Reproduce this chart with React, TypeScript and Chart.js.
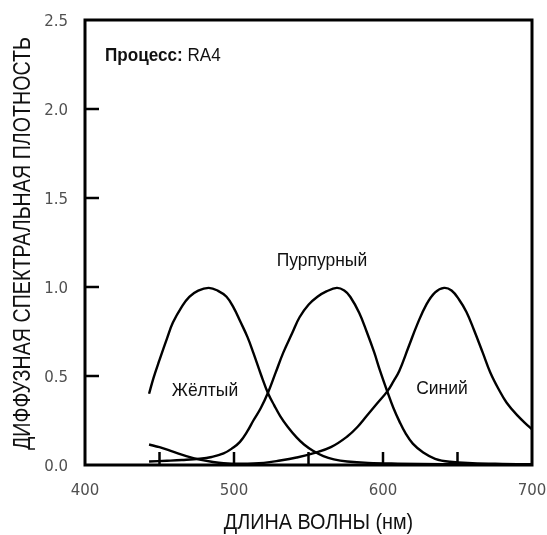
import { useEffect, useRef } from 'react';
import { Chart, registerables } from 'chart.js';

Chart.register(...registerables);

// ---- data (wavelength nm, diffuse spectral density) ----
const yellowNm = [443, 446, 450, 455, 459, 465, 470, 476, 483, 489, 495, 500, 504, 509, 513, 518, 523, 527, 531, 536, 542, 547, 553, 560, 567, 576, 590, 610, 640, 670, 700];
const yellowD = [0.40, 0.49, 0.59, 0.71, 0.80, 0.89, 0.945, 0.98, 0.995, 0.98, 0.945, 0.88, 0.81, 0.72, 0.63, 0.51, 0.40, 0.335, 0.275, 0.215, 0.155, 0.115, 0.08, 0.05, 0.032, 0.02, 0.012, 0.008, 0.005, 0.003, 0.002];

const magentaNm = [443, 455, 465, 477, 485, 493, 499, 504, 509, 513, 518, 523, 528, 533, 539, 544, 550, 556, 562, 569, 574, 578, 584, 589, 594, 598, 603, 607, 611, 615, 620, 627, 635, 645, 660, 680, 700];
const magentaD = [0.02, 0.024, 0.028, 0.035, 0.045, 0.065, 0.095, 0.13, 0.19, 0.25, 0.32, 0.41, 0.52, 0.63, 0.74, 0.83, 0.90, 0.945, 0.975, 0.995, 0.98, 0.945, 0.855, 0.75, 0.635, 0.53, 0.41, 0.32, 0.245, 0.18, 0.12, 0.07, 0.035, 0.018, 0.01, 0.006, 0.004];

const cyanNm = [443, 450, 459, 468, 477, 485, 493, 505, 520, 531, 542, 553, 565, 576, 583, 589, 596, 603, 607, 611, 617, 623, 629, 635, 641, 646, 651, 656, 661, 667, 672, 678, 683, 690, 698, 700];
const cyanD = [0.115, 0.10, 0.075, 0.05, 0.03, 0.018, 0.01, 0.007, 0.012, 0.025, 0.042, 0.065, 0.10, 0.16, 0.215, 0.275, 0.345, 0.415, 0.47, 0.53, 0.66, 0.79, 0.90, 0.97, 0.995, 0.98, 0.93, 0.86, 0.76, 0.63, 0.52, 0.42, 0.35, 0.28, 0.215, 0.20];

const xTickLabels = [400, 500, 600, 700];
const yTickLabels = [0, 0.5, 1.0, 1.5, 2.0, 2.5];
const xInnerTicks = [450, 500, 550, 600, 650];
const yInnerTicks = [0.5, 1.0, 1.5, 2.0];

const curveNames = ['Жёлтый', 'Пурпурный', 'Синий'];
const curveNameNm = [480.5, 559, 639.6];
const curveNameD = [0.416, 1.146, 0.427];

const processLabel = 'Процесс:';
const processValue = ' RA4';
const processNm = 413.4;
const processD = 2.3;

const xTitle = 'ДЛИНА ВОЛНЫ (нм)';
const yTitle = 'ДИФФУЗНАЯ СПЕКТРАЛЬНАЯ ПЛОТНОСТЬ';

const toPoints = (xs: number[], ys: number[]) => xs.map((x, i) => ({ x, y: ys[i] }));

const SANS = '"Liberation Sans", Arial, sans-serif';

// draw text horizontally condensed by factor sx
function condensedText(ctx: any, text: string, x: number, y: number, sx: number) {
  ctx.save();
  ctx.translate(x, y);
  ctx.scale(sx, 1);
  ctx.fillText(text, 0, 0);
  ctx.restore();
}

const decorPlugin = {
  id: 'decor',
  afterDatasetsDraw(chart: any) {
    const { ctx, chartArea } = chart;
    const xs = chart.scales.x;
    const ys = chart.scales.y;
    ctx.save();
    ctx.strokeStyle = '#000';
    ctx.lineCap = 'butt';
    // inner tick marks
    ctx.lineWidth = 2.5;
    xInnerTicks.forEach((v) => {
      const px = xs.getPixelForValue(v);
      ctx.beginPath();
      ctx.moveTo(px, chartArea.bottom);
      ctx.lineTo(px, chartArea.bottom - 13);
      ctx.stroke();
    });
    yInnerTicks.forEach((v) => {
      const py = ys.getPixelForValue(v);
      ctx.beginPath();
      ctx.moveTo(chartArea.left, py);
      ctx.lineTo(chartArea.left + 14, py);
      ctx.stroke();
    });
    // frame
    ctx.lineWidth = 3;
    ctx.strokeRect(chartArea.left, chartArea.top, chartArea.right - chartArea.left, chartArea.bottom - chartArea.top);

    // curve names
    ctx.fillStyle = '#111';
    ctx.textBaseline = 'middle';
    ctx.textAlign = 'center';
    ctx.font = `19px ${SANS}`;
    curveNames.forEach((t, i) => {
      condensedText(ctx, t, xs.getPixelForValue(curveNameNm[i]), ys.getPixelForValue(curveNameD[i]), 0.92);
    });

    // process label
    ctx.textAlign = 'left';
    const px = xs.getPixelForValue(processNm);
    const py = ys.getPixelForValue(processD);
    ctx.font = `bold 18px ${SANS}`;
    condensedText(ctx, processLabel, px, py, 0.95);
    const w = ctx.measureText(processLabel).width * 0.95;
    ctx.font = `18px ${SANS}`;
    condensedText(ctx, processValue, px + w, py, 0.95);

    // axis titles
    ctx.textAlign = 'center';
    ctx.font = `22px ${SANS}`;
    condensedText(ctx, xTitle, (chartArea.left + chartArea.right) / 2 + 10, 523, 0.9);
    ctx.save();
    ctx.translate(23, (chartArea.top + chartArea.bottom) / 2 + 1);
    ctx.rotate(-Math.PI / 2);
    ctx.font = `24px ${SANS}`;
    condensedText(ctx, yTitle, 0, 0, 0.82);
    ctx.restore();
    ctx.restore();
  },
};

export default function App() {
  const ref = useRef<HTMLCanvasElement>(null);
  useEffect(() => {
    if (!ref.current) return;
    const lineStyle = {
      borderColor: '#000',
      borderWidth: 2.4,
      pointRadius: 0,
      fill: false,
      tension: 0.4,
    };
    const zeroPad = (s: any) => {
      s.paddingLeft = 0;
      s.paddingRight = 0;
      s.paddingTop = 0;
      s.paddingBottom = 0;
    };
    const chart = new Chart(ref.current, {
      type: 'line',
      data: {
        datasets: [
          { label: curveNames[0], data: toPoints(yellowNm, yellowD), ...lineStyle },
          { label: curveNames[1], data: toPoints(magentaNm, magentaD), ...lineStyle },
          { label: curveNames[2], data: toPoints(cyanNm, cyanD), ...lineStyle },
        ],
      },
      options: {
        responsive: false,
        animation: false,
        layout: { padding: { top: 20, right: 15, left: 0, bottom: 0 } },
        plugins: { legend: { display: false }, tooltip: { enabled: false } },
        scales: {
          x: {
            type: 'linear',
            min: 400,
            max: 700,
            afterBuildTicks: (s: any) => {
              s.ticks = xTickLabels.map((v) => ({ value: v }));
            },
            afterFit: (s: any) => {
              s.height = 70;
              zeroPad(s);
            },
            grid: { display: false, drawTicks: false },
            border: { display: false },
            ticks: {
              padding: 17,
              color: '#505050',
              font: { family: '"DejaVu Sans", sans-serif', size: 15 },
              maxRotation: 0,
              callback: (v: any) => String(v),
            },
          },
          y: {
            type: 'linear',
            min: 0,
            max: 2.5,
            afterBuildTicks: (s: any) => {
              s.ticks = yTickLabels.map((v) => ({ value: v }));
            },
            afterFit: (s: any) => {
              s.width = 85;
              zeroPad(s);
            },
            grid: { display: false, drawTicks: false },
            border: { display: false },
            ticks: {
              padding: 17,
              labelOffset: 2,
              color: '#505050',
              font: { family: '"DejaVu Sans", sans-serif', size: 15 },
              callback: (v: any) => Number(v).toFixed(1),
            },
          },
        },
      },
      plugins: [decorPlugin],
    });
    return () => chart.destroy();
  }, []);
  return (
    <div style={{ position: 'absolute', left: 0, top: 0, width: 547, height: 535, background: '#fff' }}>
      <canvas ref={ref} width={547} height={535} style={{ display: 'block' }} />
    </div>
  );
}
